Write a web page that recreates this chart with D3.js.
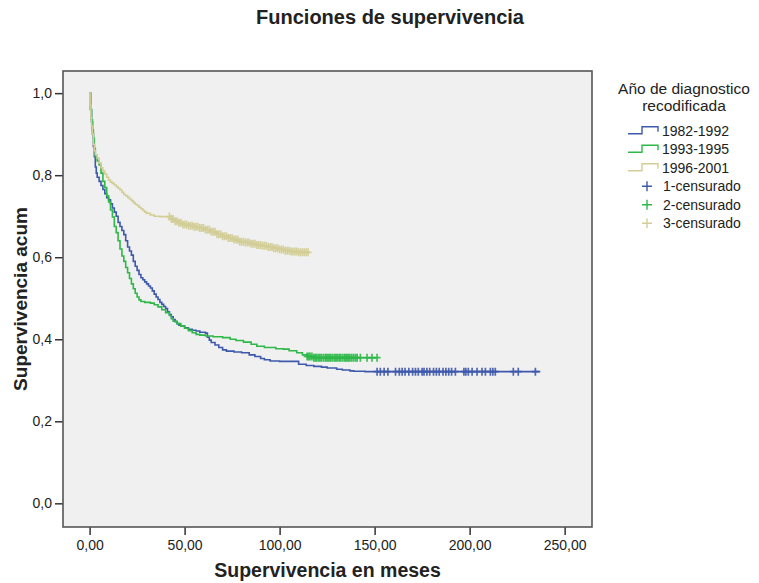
<!DOCTYPE html>
<html>
<head>
<meta charset="utf-8">
<script src="https://cdn.jsdelivr.net/npm/d3@7"></script>
<style>
  body { margin: 0; background: #fff; }
  svg text { font-family: "Liberation Sans", Arial, sans-serif; fill: #222; }
</style>
</head>
<body>
<div id="chart"></div>
<script>
// step points (months, cumulative survival)
var blueT = [0,0.5,1,1.5,2,2.5,3,3.5,4,5,6,7,8,9,10,11,12,13,14,15,16,17,18,19,20,21,22,23,24,25,26,27,28,29,30,31,32,33,34,35,36,37,38,39,40,41,42,43,44,45,46,47,48,50,52,54,56,58,61,62,63,64,66,68,70,72,76,80,84,87,90,92,95,100,107,110,114,118,122,125,130,133,137,139,145,237.2];
var blueS = [1,0.96,0.93,0.90,0.87,0.845,0.82,0.805,0.795,0.785,0.775,0.765,0.755,0.745,0.74,0.73,0.72,0.71,0.70,0.685,0.675,0.665,0.655,0.64,0.625,0.615,0.605,0.59,0.578,0.568,0.558,0.55,0.545,0.54,0.535,0.53,0.525,0.518,0.51,0.503,0.497,0.49,0.485,0.48,0.475,0.467,0.46,0.455,0.448,0.443,0.438,0.434,0.432,0.428,0.424,0.422,0.42,0.417,0.415,0.405,0.398,0.392,0.386,0.38,0.374,0.371,0.369,0.367,0.362,0.358,0.353,0.35,0.347,0.346,0.346,0.339,0.336,0.334,0.332,0.33,0.327,0.325,0.323,0.322,0.321,0.321];
var blueCens = [151.3,153,155,157,161,163,164.5,166,168,170,171.5,173,175,176,177.5,179,181,182.5,184,186,187.5,189,190.5,192.5,197,198,199.3,201.3,203.9,206.5,208.3,210.9,212.2,213.5,223,225.6,234.6];

var greenT = [0,0.5,1,1.5,2,2.5,3,4,5,6,7,8,9,10,11,12,13,14,15,16,17,18,19,20,21,22,23,24,25,26,27,29,32,34,36,38,40,42,43,44,46,48,50,52,54,56,58,61,65,70,74,77,81,85,88,92,98,102,105,109,112,114.4,118,151.3];
var greenS = [1,0.96,0.935,0.91,0.89,0.865,0.845,0.835,0.825,0.805,0.785,0.77,0.75,0.735,0.715,0.698,0.675,0.66,0.64,0.62,0.603,0.59,0.575,0.562,0.548,0.535,0.523,0.512,0.503,0.496,0.492,0.49,0.488,0.484,0.479,0.472,0.465,0.458,0.45,0.444,0.438,0.432,0.427,0.421,0.416,0.412,0.41,0.408,0.406,0.404,0.40,0.397,0.393,0.388,0.383,0.38,0.377,0.376,0.372,0.367,0.362,0.358,0.355,0.355];
var greenCens = [114.5,115.3,116,117,118,118.8,119.5,120.4,121.2,122,123,124,124.8,125.5,126.3,127,128,129,129.7,130.5,131.4,132,133,134,134.8,135.5,136.3,137,138,139,140,140.8,142.5,146,148.6,151.3];

var yellowT = [0,0.3,0.7,1,1.5,2,2.5,3,4,5,6,7,8,9,10,11,12,13,14,15,16,17,18,19,20,21,22,23,24,25,26,27,28,29,30,32,34,37,42,43,45,47,49,52,55,58,61,64,67,70,73,76,79,82,85,88,91,94,97,100,103,106,110,115.3];
var yellowS = [1,0.97,0.94,0.92,0.90,0.875,0.86,0.85,0.842,0.83,0.818,0.81,0.803,0.795,0.788,0.783,0.78,0.776,0.772,0.768,0.764,0.758,0.753,0.75,0.746,0.742,0.738,0.733,0.729,0.726,0.722,0.718,0.714,0.71,0.707,0.703,0.70,0.699,0.699,0.693,0.688,0.684,0.68,0.677,0.674,0.671,0.667,0.662,0.656,0.651,0.647,0.643,0.638,0.636,0.633,0.63,0.628,0.625,0.622,0.619,0.616,0.614,0.612,0.611];
var yellowCens = [42,43,44,45,46,47,48,49,50,51,52,53,54,55,56,57,58,59,60,61,62,63,64,65,66,67,68,69,70,71,72,73,74,75,76,77,78,79,80,81,82,83,84,85,86,87,88,89,90,91,92,93,94,95,96,97,98,99,100,101,102,103,104,105,106,107,108,109,110,111,112,113,114,115];

var groups = ["1982-1992", "1993-1995", "1996-2001"];
var censLabels = ["1-censurado", "2-censurado", "3-censurado"];
var colors = ["#3E58AC", "#2EB848", "#D3CE97"];
var xTicks = [0, 50, 100, 150, 200, 250];
var yTicks = [0, 0.2, 0.4, 0.6, 0.8, 1.0];

var series = [
  {t: blueT, s: blueS, c: blueCens},
  {t: greenT, s: greenS, c: greenCens},
  {t: yellowT, s: yellowS, c: yellowCens}
];

var W = 759, H = 583;
var svg = d3.select("#chart").append("svg").attr("width", W).attr("height", H);

var x = d3.scaleLinear().domain([-14, 264.4]).range([63, 592]);
var y = d3.scaleLinear().domain([-0.0577, 1.054]).range([527, 71]);

svg.append("rect")
    .attr("x", 63).attr("y", 71)
    .attr("width", 529).attr("height", 456)
    .attr("fill", "#F0F0F0");

var comma = function(f) { return function(d) { return f(d).replace(".", ","); }; };

var yAxis = svg.append("g")
    .attr("transform", "translate(63,0)")
    .call(d3.axisLeft(y).tickValues(yTicks).tickSize(8).tickPadding(3).tickFormat(comma(d3.format(".1f"))));
var xAxis = svg.append("g")
    .attr("transform", "translate(0,527)")
    .call(d3.axisBottom(x).tickValues(xTicks).tickSize(8).tickPadding(5).tickFormat(comma(d3.format(".2f"))));

[xAxis, yAxis].forEach(function(a) {
  a.select(".domain").remove();
  a.selectAll(".tick line").attr("stroke", "#333").attr("stroke-width", 1.5);
  a.selectAll(".tick text").attr("font-size", 14).attr("fill", "#333")
      .style("font-family", "'Liberation Sans', Arial, sans-serif");
});

var line = d3.line()
    .x(function(d) { return x(d[0]); })
    .y(function(d) { return y(d[1]); })
    .curve(d3.curveStepAfter);

function survAt(sr, t) {
  var i = d3.bisectRight(sr.t, t) - 1;
  return sr.s[Math.max(0, i)];
}

var plot = svg.append("g");

series.forEach(function(sr, k) {
  var pts = sr.t.map(function(t, i) { return [t, sr.s[i]]; });
  plot.append("path")
      .attr("d", line(pts))
      .attr("fill", "none")
      .attr("stroke", colors[k])
      .attr("stroke-width", 1.6);

  plot.selectAll(".cens" + k)
      .data(sr.c)
    .enter().append("path")
      .attr("class", "cens" + k)
      .attr("d", function(t) {
        var px = x(t), py = y(survAt(sr, t));
        return "M" + (px - 3.5) + "," + py + "H" + (px + 3.5) + "M" + px + "," + (py - 4) + "V" + (py + 4);
      })
      .attr("stroke", colors[k])
      .attr("stroke-width", 1.7)
      .attr("opacity", 0.9);
});

// plot frame
svg.append("rect")
    .attr("x", 63).attr("y", 71)
    .attr("width", 529).attr("height", 456)
    .attr("fill", "none")
    .attr("stroke", "#555")
    .attr("stroke-width", 1.6);

// titles
svg.append("text")
    .attr("x", 390).attr("y", 24)
    .attr("text-anchor", "middle")
    .attr("font-size", 20).attr("font-weight", "bold")
    .text("Funciones de supervivencia");

svg.append("text")
    .attr("x", 327.5).attr("y", 577)
    .attr("text-anchor", "middle")
    .attr("font-size", 19.5).attr("font-weight", "bold")
    .text("Supervivencia en meses");

svg.append("text")
    .attr("transform", "translate(27,299) rotate(-90)")
    .attr("text-anchor", "middle")
    .attr("font-size", 19).attr("font-weight", "bold")
    .text("Supervivencia acum");

// legend
var lg = svg.append("g");
lg.append("text").attr("x", 684).attr("y", 94).attr("text-anchor", "middle")
    .attr("font-size", 15.5).text("Año de diagnostico");
lg.append("text").attr("x", 684).attr("y", 111).attr("text-anchor", "middle")
    .attr("font-size", 15.5).text("recodificada");

var rowY = [130.7, 149.2, 167.7, 186.2, 204.7, 223.2];

groups.forEach(function(g, k) {
  var cy = rowY[k];
  lg.append("path")
      .attr("d", "M628," + (cy + 3) + "H642V" + (cy - 4) + "H658V" + (cy + 1))
      .attr("fill", "none")
      .attr("stroke", colors[k])
      .attr("stroke-width", 1.4);
  lg.append("text").attr("x", 662).attr("y", cy + 5)
      .attr("font-size", 14).text(g);
});

censLabels.forEach(function(g, k) {
  var cy = rowY[k + 3];
  lg.append("path")
      .attr("d", "M642," + cy + "H652M647," + (cy - 5) + "V" + (cy + 5))
      .attr("stroke", colors[k])
      .attr("stroke-width", 1.4);
  lg.append("text").attr("x", 663).attr("y", cy + 5)
      .attr("font-size", 14).text(g);
});
</script>
</body>
</html>
